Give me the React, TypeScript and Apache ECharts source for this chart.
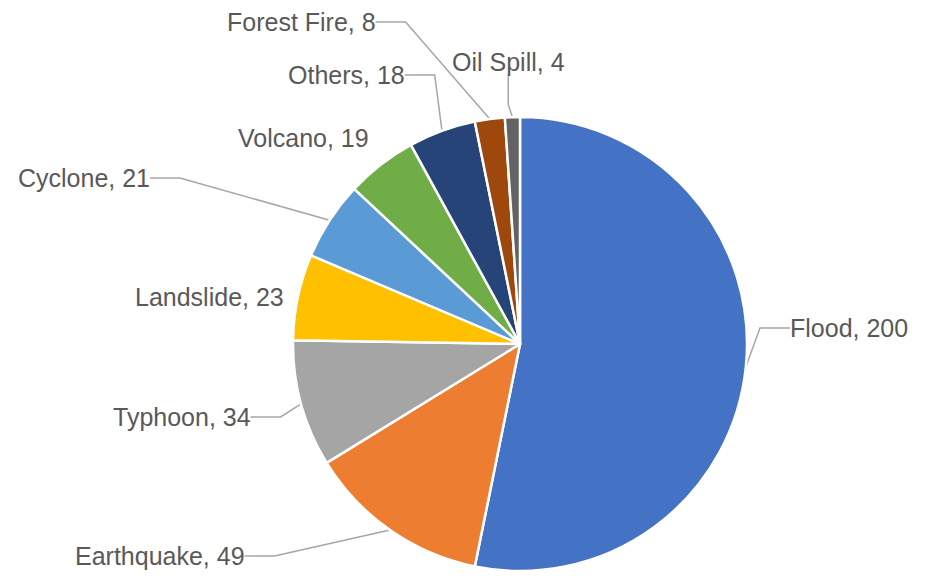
import React, { useEffect, useRef } from 'react';
import * as echarts from 'echarts';

const categories = ['Flood', 'Earthquake', 'Typhoon', 'Landslide', 'Cyclone', 'Volcano', 'Others', 'Forest Fire', 'Oil Spill'];
const values = [200, 49, 34, 23, 21, 19, 18, 8, 4];
const colors = ['#4472C4', '#ED7D31', '#A5A5A5', '#FFC000', '#5B9BD5', '#70AD47', '#264478', '#9E480E', '#636363'];
// label text anchor (left edge, vertical middle) per slice
const labelAnchors: [number, number][] = [
  [790, 328], [75, 556], [113, 417], [135, 297], [18, 178], [238, 138], [288, 75], [227, 22], [452, 62],
];
const showLeader = [true, true, true, false, true, false, true, true, true];

export default function App() {
  const ref = useRef<HTMLDivElement>(null);
  useEffect(() => {
    document.body.style.margin = '0';
    const chart = echarts.init(ref.current!, undefined, { renderer: 'svg' });
    chart.setOption({
      animation: false,
      backgroundColor: '#ffffff',
      series: [
        {
          type: 'pie',
          center: [520, 344],
          radius: 227,
          startAngle: 90,
          clockwise: true,
          avoidLabelOverlap: false,
          itemStyle: { borderColor: '#ffffff', borderWidth: 2.5 },
          label: {
            show: true,
            formatter: '{b}, {c}',
            color: '#595959',
            fontFamily: 'Liberation Sans',
            fontSize: 25,
          },
          labelLine: {
            show: true,
            lineStyle: { color: '#a6a6a6', width: 1.5 },
          },
          labelLayout: (params: any) => {
            const p = labelAnchors[params.dataIndex];
            return { x: p[0], y: p[1], align: 'left', verticalAlign: 'middle' };
          },
          data: categories.map((name, i) => ({
            name,
            value: values[i],
            itemStyle: { color: colors[i] },
            labelLine: { show: showLeader[i] },
          })),
        },
      ],
    });
    return () => chart.dispose();
  }, []);
  return <div ref={ref} style={{ width: 930, height: 584 }} />;
}
